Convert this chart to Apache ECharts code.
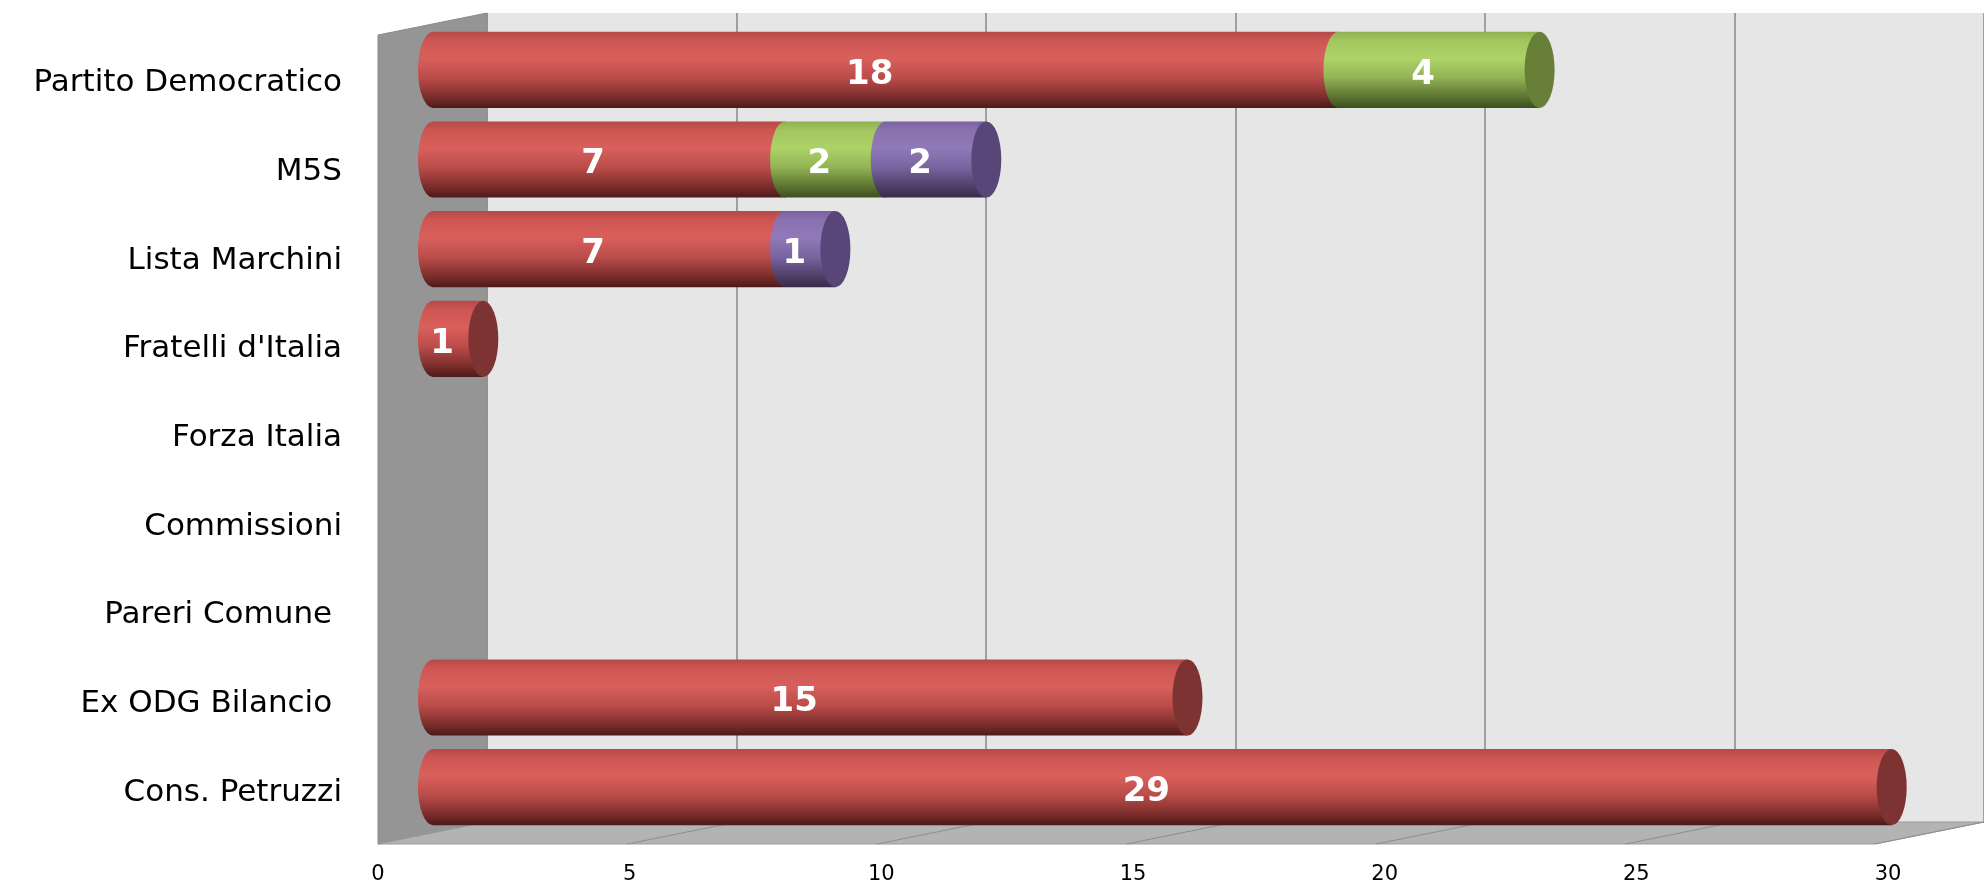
<!DOCTYPE html>
<html>
<head>
<meta charset="utf-8">
<script src="https://cdn.jsdelivr.net/npm/echarts@6/dist/echarts.min.js"></script>
<style>
  html, body { margin: 0; padding: 0; background: #fff; }
  #chart { width: 1984px; height: 889px; }
</style>
</head>
<body>
<div id="chart"></div>
<script>
const categories = ['Partito Democratico', 'M5S', 'Lista Marchini', "Fratelli d'Italia", 'Forza Italia', 'Commissioni', 'Pareri Comune ', 'Ex ODG Bilancio ', 'Cons. Petruzzi'];
const redValues = [18, 7, 7, 1, 0, 0, 0, 15, 29];
const greenValues = [4, 2, 0, 0, 0, 0, 0, 0, 0];
const purpleValues = [0, 2, 1, 0, 0, 0, 0, 0, 0];
const axisMin = 0;
const axisMax = 30;
const axisStep = 5;

const stacks = [redValues, greenValues, purpleValues];
const font = 'DejaVu Sans';
const depth = [-109, 22]; // offset from back wall to front plane

// [start, end, category, value, isLast]
function buildSegments(s) {
  return categories.map((c, i) => {
    let start = 0;
    for (let k = 0; k < s; k++) start += stacks[k][i];
    let last = 1;
    for (let k = s + 1; k < stacks.length; k++) if (stacks[k][i] > 0) last = 0;
    return [start, start + stacks[s][i], i, stacks[s][i], last];
  });
}

const palettes = [
  { stops: ['#b44a47', '#cd5653', '#d95f5c', '#bb4d4a', '#853230', '#4d1a19'], cap: '#7d3331' },
  { stops: ['#8fb050', '#a3c65e', '#add368', '#93b355', '#637d35', '#3c4e20'], cap: '#677f37' },
  { stops: ['#7a62a0', '#8a71b0', '#9079b8', '#7a64a0', '#55446f', '#372b48'], cap: '#574677' }
];
const stopPos = [0, 0.12, 0.35, 0.6, 0.82, 1];

function cylinder(pal) {
  const grad = new echarts.graphic.LinearGradient(0, 0, 0, 1,
    pal.stops.map((c, i) => ({ offset: stopPos[i], color: c })));
  return function (params, api) {
    const v = api.value(3);
    if (!v) return;
    const cat = api.value(2);
    const a = api.coord([api.value(0), cat]);
    const b = api.coord([api.value(1), cat]);
    const h = api.size([0, 1])[1] * 0.85;
    const yT = a[1] - h / 2, yB = a[1] + h / 2;
    const rx = 15, ry = h / 2;
    const children = [{
      type: 'path',
      shape: { pathData: `M${a[0]} ${yT}L${b[0]} ${yT}L${b[0]} ${yB}L${a[0]} ${yB}A${rx} ${ry} 0 0 1 ${a[0]} ${yT}Z` },
      style: { fill: grad }
    }];
    if (api.value(4)) {
      children.push({
        type: 'path',
        shape: { pathData: `M${b[0]} ${yT}A${rx} ${ry} 0 0 1 ${b[0]} ${yB}A${rx} ${ry} 0 0 1 ${b[0]} ${yT}Z` },
        style: { fill: pal.cap }
      });
    }
    children.push({
      type: 'text',
      x: (a[0] + b[0]) / 2 - 16,
      y: a[1] + 5,
      style: { text: String(v), fill: '#fff', fontSize: 34, fontWeight: 'bold', fontFamily: font, align: 'center', verticalAlign: 'middle' }
    });
    return { type: 'group', children };
  };
}

// side wall, floor and floor grid lines, placed from the back wall's axes
function walls(params, api) {
  const blt = api.coord([axisMin, 1]);
  const blb = api.coord([axisMin, 0]);
  const brb = api.coord([axisMax, 0]);
  const mv = (p) => [p[0] + depth[0], p[1] + depth[1]];
  const children = [
    { type: 'polygon', shape: { points: [blt, blb, mv(blb), mv(blt)] }, style: { fill: '#959595', stroke: '#8a8a8a', lineWidth: 1 } },
    { type: 'polygon', shape: { points: [blb, brb, mv(brb), mv(blb)] }, style: { fill: '#b3b3b3', stroke: '#9a9a9a', lineWidth: 1 } }
  ];
  for (let t = axisMin + axisStep; t < axisMax + axisStep; t += axisStep) {
    const p = api.coord([t, 0]);
    const q = mv(p);
    children.push({ type: 'line', shape: { x1: p[0], y1: p[1], x2: q[0], y2: q[1] }, style: { stroke: '#8e8e8e', lineWidth: 1 } });
  }
  return { type: 'group', children };
}

const chart = echarts.init(document.getElementById('chart'));
chart.setOption({
  animation: false,
  grid: [
    { left: 487, width: 1510, top: 13, height: 809, show: true, backgroundColor: '#e6e6e6', borderWidth: 0 },
    { left: 378, width: 1510, top: 39, height: 798 },
    { left: 378, width: 1510, top: 13, height: 831 },
    { left: 433, width: 1509, top: 25, height: 807 }
  ],
  xAxis: [
    { gridIndex: 0, type: 'value', min: axisMin, max: axisMax, interval: axisStep,
      axisLine: { show: false }, axisTick: { show: false }, axisLabel: { show: false },
      splitLine: { show: true, lineStyle: { color: '#878787', width: 1.5 } } },
    { gridIndex: 1, type: 'value', show: false },
    { gridIndex: 2, type: 'value', min: axisMin, max: axisMax, interval: axisStep,
      axisLine: { show: false }, axisTick: { show: false }, splitLine: { show: false },
      axisLabel: { margin: 20, fontSize: 21, color: '#000', fontFamily: font } },
    { gridIndex: 3, type: 'value', min: axisMin, max: axisMax, show: false }
  ],
  yAxis: [
    { gridIndex: 0, type: 'value', min: 0, max: 1, show: false },
    { gridIndex: 1, type: 'category', inverse: true, data: categories,
      axisLine: { show: false }, axisTick: { show: false },
      axisLabel: { margin: 36, fontSize: 31, color: '#000', fontFamily: font } },
    { gridIndex: 2, type: 'value', show: false },
    { gridIndex: 3, type: 'category', inverse: true, data: categories, show: false }
  ],
  series: [
    { type: 'custom', name: 'walls', xAxisIndex: 0, yAxisIndex: 0, clip: false, silent: true, z: 1,
      renderItem: walls, data: [[0, 0]] },
    ...palettes.map((pal, s) => ({
      type: 'custom', name: 'Serie ' + (s + 1), xAxisIndex: 3, yAxisIndex: 3, clip: false, z: 3 + s,
      encode: { x: [0, 1], y: 2 },
      renderItem: cylinder(pal),
      data: buildSegments(s)
    }))
  ]
});
</script>
</body>
</html>
